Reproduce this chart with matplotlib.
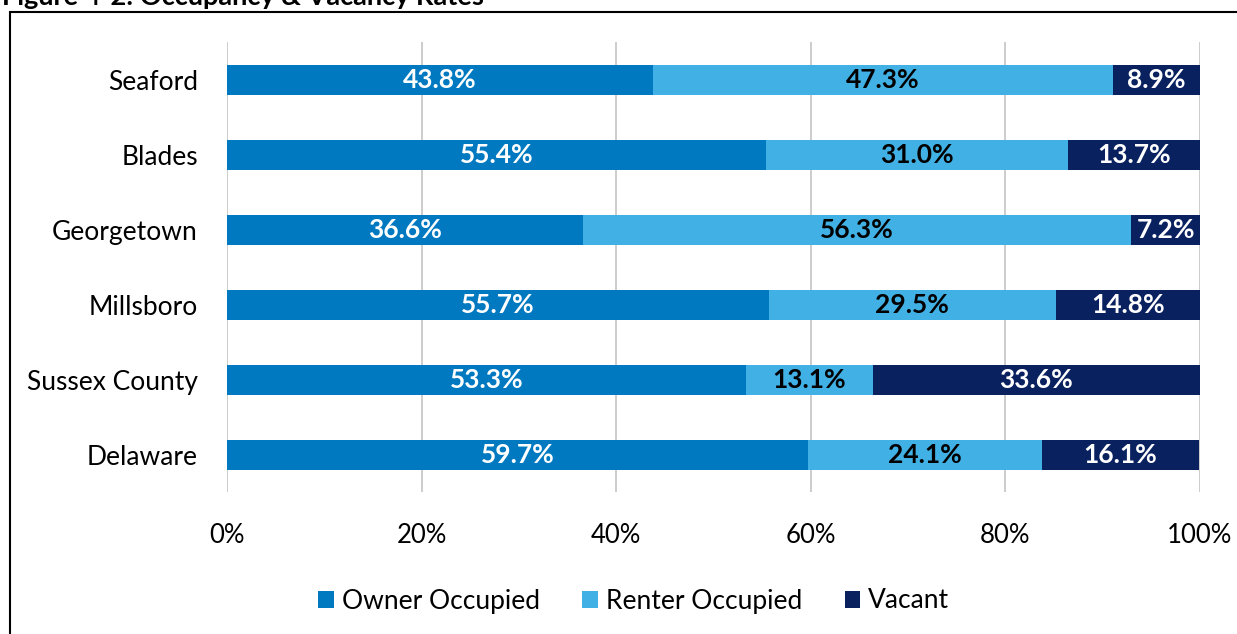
import matplotlib.pyplot as plt
from matplotlib.patches import Rectangle
from matplotlib.ticker import FuncFormatter

plt.rcParams["font.family"] = ["Lato", "DejaVu Sans"]

places = ["Seaford", "Blades", "Georgetown", "Millsboro", "Sussex County", "Delaware"]
owner = [43.8, 55.4, 36.6, 55.7, 53.3, 59.7]
renter = [47.3, 31.0, 56.3, 29.5, 13.1, 24.1]
vacant = [8.9, 13.7, 7.2, 14.8, 33.6, 16.1]
series = ["Owner Occupied", "Renter Occupied", "Vacant"]

colors = ["#0079C1", "#41B0E4", "#0A2160"]
text_colors = ["white", "black", "white"]

fig = plt.figure(figsize=(12.37, 6.34), dpi=100)
ax = fig.add_axes([0.1835, 0.2232, 0.7865, 0.7098])

# outer frame, cut by the image edges like the source
fig.patches.append(Rectangle((10 / 1237, -0.1), 1.2, (634 - 12) / 634 + 0.1,
                             transform=fig.transFigure, fill=False,
                             edgecolor="black", linewidth=1.5))
fig.text(2 / 1237, 1 - 5 / 634, "Figure 4-2: Occupancy & Vacancy Rates",
         fontsize=19.5, fontweight="bold", va="baseline", ha="left")

y = list(range(len(places)))[::-1]
left = [0] * len(places)
for vals, name, col, tcol in zip([owner, renter, vacant], series, colors, text_colors):
    bars = ax.barh(y, vals, left=left, height=0.4, color=col, label=name, zorder=3)
    for b, v in zip(bars, vals):
        ax.text(b.get_x() + b.get_width() / 2, b.get_y() + b.get_height() / 2,
                f"{v:.1f}%", ha="center", va="center", color=tcol,
                fontsize=19, fontweight="bold", zorder=4)
    left = [l + v for l, v in zip(left, vals)]

ax.set_xlim(0, 100)
ax.set_ylim(-0.5, len(places) - 0.5)
ax.set_yticks(y)
ax.set_yticklabels(places, fontsize=19)
ax.set_xticks(range(0, 101, 20))
ax.xaxis.set_major_formatter(FuncFormatter(lambda v, p: f"{v:.0f}%"))
ax.tick_params(axis="x", labelsize=18.5, length=0, pad=22)
ax.tick_params(axis="y", length=0, pad=21)
ax.grid(True, axis="x", color="#C8C8C8", linewidth=1.3, zorder=0)
for s in ax.spines.values():
    s.set_visible(False)

ax.legend(loc="center", bbox_to_anchor=(634 / 1237, 1 - 601 / 634),
          bbox_transform=fig.transFigure, ncol=3, frameon=False,
          fontsize=19, handlelength=0.6, handleheight=0.6, columnspacing=1.6,
          handletextpad=0.3)

fig.savefig("out.png", dpi=100)
